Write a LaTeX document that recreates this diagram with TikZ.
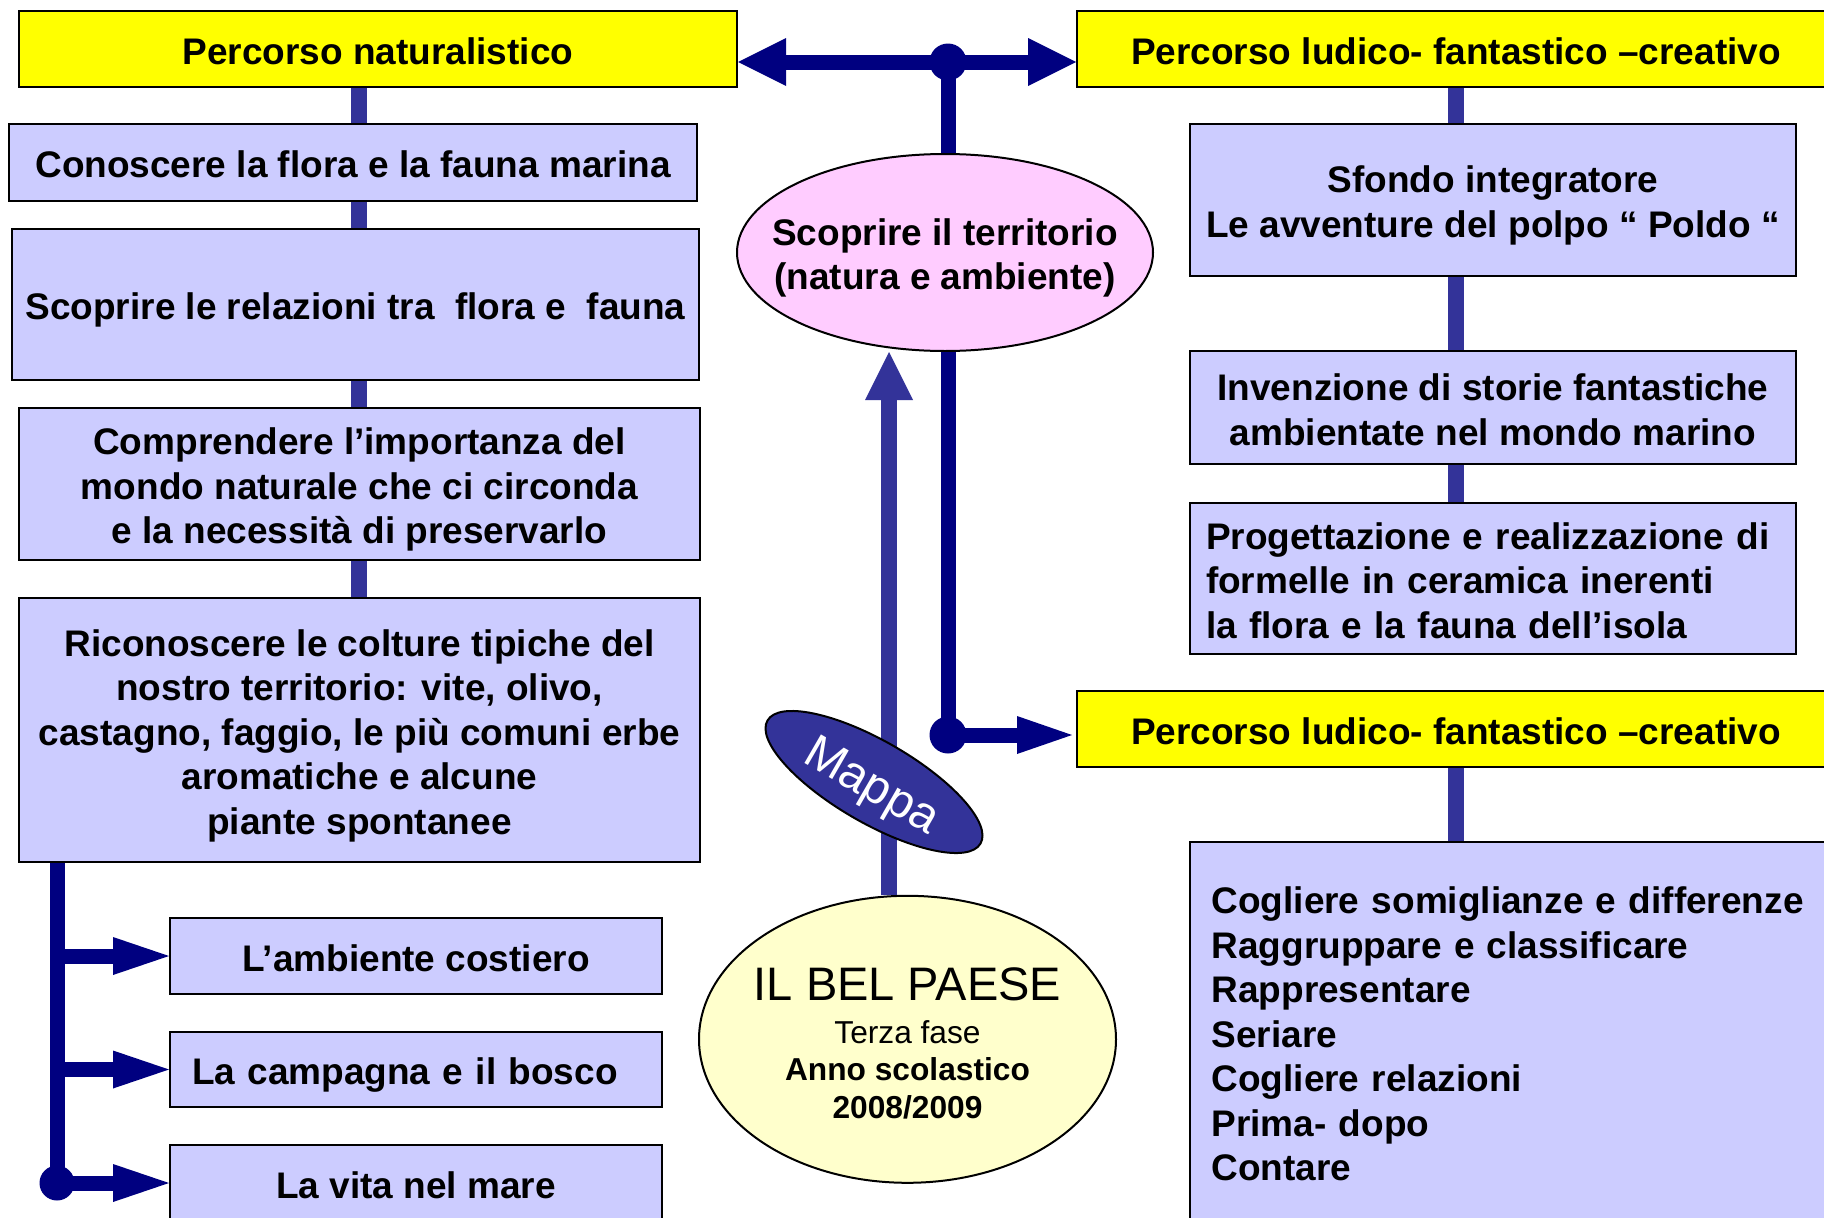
\documentclass[tikz,border=0pt]{standalone}
\usepackage{fontspec}
\setmainfont{Liberation Sans}
\usetikzlibrary{shapes.geometric,arrows.meta}
\definecolor{navyc}{RGB}{0,0,128}
\definecolor{connc}{RGB}{51,51,153}
\definecolor{boxc}{RGB}{204,204,255}
\definecolor{yelc}{RGB}{255,255,0}
\definecolor{pinkc}{RGB}{255,204,255}
\definecolor{belc}{RGB}{255,255,204}
\newcommand\fstr{\rule{0pt}{38pt}}
\newcommand\lstr{\rule[-7.5pt]{0pt}{7.5pt}}
\newcommand\ostr{\rule[-7.5pt]{0pt}{45.5pt}}
\begin{document}
\begin{tikzpicture}[x=1pt,y=-1pt,
  txt/.style={font=\bfseries\fontsize{37}{44.5}\selectfont},
  ybox/.style={txt, rectangle, draw=black, line width=2pt, fill=yelc, inner sep=0pt, minimum height=76pt},
  bbox/.style={txt, rectangle, draw=black, line width=2pt, fill=boxc, inner sep=0pt, align=center},
  conn/.style={draw=connc, line width=16pt},
  navyline/.style={draw=navyc, line width=15pt},
  bigtip/.style={-{Triangle[length=48pt,width=48pt,line width=0pt]}},
  smtip/.style={-{Triangle[length=56pt,width=38pt,line width=0pt]}}
]
\useasboundingbox (0,0) rectangle (1824,1218);
\fill[white] (0,0) rectangle (1824,1218);
\clip (0,0) rectangle (1824,1218);

% ---------- left column ----------
\node[ybox, minimum width=718pt] (pn) at (378,49) {\ostr Percorso naturalistico};
\node[bbox, minimum width=688pt, minimum height=77pt] (c1) at (353,162.5) {\ostr Conoscere la flora e la fauna marina};
\node[bbox, minimum width=687pt, minimum height=151pt] (c2) at (355.5,304.5) {\ostr Scoprire le relazioni tra\ \ flora e\ \ fauna};
\node[bbox, minimum width=681pt, minimum height=152pt] (c3) at (359.5,484) {\fstr Comprendere l’importanza del\\mondo naturale che ci circonda\\e la necessità di preservarlo\lstr};
\node[bbox, minimum width=681pt, minimum height=264pt] (c4) at (359.5,730) {\fstr Riconoscere le colture tipiche del\\nostro territorio: vite, olivo,\\castagno, faggio, le più comuni erbe\\aromatiche e alcune\\piante spontanee\lstr};

\node[bbox, minimum width=492pt, minimum height=76pt] (s1) at (416,956) {\ostr L’ambiente costiero};
\node[bbox, minimum width=492pt, minimum height=75pt, inner xsep=22pt, text width=448pt, align=left] (s2) at (416,1069.5) {\ostr La campagna e il bosco};
\node[bbox, minimum width=492pt, minimum height=76pt] (s3) at (416,1183) {\ostr La vita nel mare};

\coordinate (lx) at (359,0);
\draw[conn] (pn.south -| lx) -- (c1.north -| lx);
\draw[conn] (c1.south -| lx) -- (c2.north -| lx);
\draw[conn] (c2.south -| lx) -- (c3.north -| lx);
\draw[conn] (c3.south -| lx) -- (c4.north -| lx);

\coordinate (bx) at (57,0);
\draw[navyline] (c4.south -| bx) -- (s3.west -| bx);
\draw[navyline, smtip] (s1.west -| bx) -- (s1.west);
\draw[navyline, smtip] (s2.west -| bx) -- (s2.west);
\draw[navyline, smtip] (s3.west -| bx) -- (s3.west);
\fill[navyc] (s3.west -| bx) circle[radius=17.5pt];

% ---------- right column ----------
\node[ybox, minimum width=758pt] (pl1) at (1456,49) {\ostr Percorso ludico- fantastico –creativo};
\node[bbox, minimum width=606pt, minimum height=152pt] (r1) at (1493,200) {\fstr Sfondo integratore\\Le avventure del polpo “ Poldo “\lstr};
\node[bbox, minimum width=606pt, minimum height=113pt] (r2) at (1493,407.5) {\fstr Invenzione di storie fantastiche\\ambientate nel mondo marino\lstr};
\node[bbox, minimum width=606pt, minimum height=151pt, inner xsep=16pt, text width=574pt, align=left] (r3) at (1493,578.5) {\fstr Progettazione e realizzazione di\\formelle in ceramica inerenti\\la flora e la fauna dell’isola\lstr};
\node[ybox, minimum width=758pt] (pl2) at (1456,729) {\ostr Percorso ludico- fantastico –creativo};
\node[bbox, minimum width=660pt, minimum height=380pt, inner xsep=21.5pt, text width=617pt, align=left] (r4) at (1520,1032) {\fstr Cogliere somiglianze e differenze\\Raggruppare e classificare\\Rappresentare\\Seriare\\Cogliere relazioni\\Prima- dopo\\Contare\lstr};

\coordinate (rx) at (1456,0);
\draw[conn] (pl1.south -| rx) -- (r1.north -| rx);
\draw[conn] (r1.south -| rx) -- (r2.north -| rx);
\draw[conn] (r2.south -| rx) -- (r3.north -| rx);
\draw[conn] (pl2.south -| rx) -- (r4.north -| rx);

% ---------- centre ----------
\node[ellipse, txt, align=center, draw=black, line width=2pt, fill=pinkc, minimum width=416pt, minimum height=197pt, inner xsep=-40pt, inner ysep=0pt] (pink) at (945,252.5) {\fstr Scoprire il territorio\\(natura e ambiente)\lstr};
\node[ellipse, draw=black, line width=2pt, fill=belc, minimum width=417pt, minimum height=287pt, inner sep=0pt] (bel) at (907.5,1039.3) {};
\node[anchor=base, font=\fontsize{47}{50}\selectfont] (bt1) at (907.5,1000.7) {IL BEL PAESE};
\node[anchor=base, font=\fontsize{31.7}{36}\selectfont] (bt2) at (907.5,1043) {Terza fase};
\node[anchor=base, font=\bfseries\fontsize{31.7}{36}\selectfont] (bt3) at (907.5,1080.4) {Anno scolastico};
\node[anchor=base, font=\bfseries\fontsize{31.7}{36}\selectfont] (bt4) at (907.5,1118) {2008/2009};

\coordinate (dA) at (948,62);
\coordinate (dB) at (948,735);
\draw[navyline, {Triangle[length=48pt,width=48pt,line width=0pt]}-{Triangle[length=48pt,width=48pt,line width=0pt]}] (pn.east |- dA) -- (pl1.west |- dA);
\draw[navyline] (dA) -- (dA |- pink.north);
\fill[navyc] (dA) circle[radius=18.5pt];
\draw[navyline] (dA |- pink.south) -- (dB);
\draw[navyline, -{Triangle[length=55pt,width=38pt,line width=0pt]}, shorten >=4pt] (dB) -- (pl2.west |- dB);
\fill[navyc] (dB) circle[radius=18.5pt];

\coordinate (ux) at (889,0);
\draw[conn, bigtip] (ux |- bel.north) -- (ux |- pink.south);

\node[ellipse, draw=black, line width=2pt, fill=connc, text=white, minimum width=246pt, minimum height=82pt, inner sep=0pt, rotate=-30, font=\fontsize{48}{50}\selectfont] (mappa) at (874,782) {\rule{0pt}{47pt}Mappa};
\end{tikzpicture}
\end{document}
